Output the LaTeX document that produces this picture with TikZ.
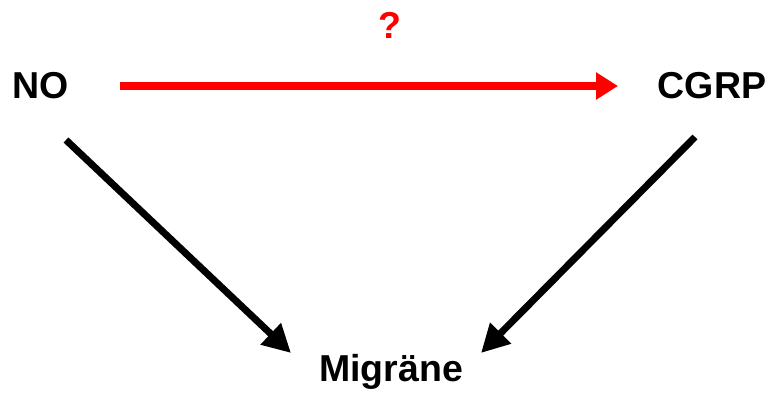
\documentclass[tikz,border=0pt]{standalone}
\usepackage{fontspec}
\setmainfont{Liberation Sans}
\usetikzlibrary{arrows.meta}
\begin{document}
\begin{tikzpicture}[x=1pt,y=-1pt,
  lbl/.style={font=\fontsize{37.5}{40}\selectfont\bfseries, inner sep=0pt},
  redarr/.style={draw=red, line width=8pt, -{Triangle[length=22pt,width=26pt]}},
  blkarr/.style={draw=black, line width=7pt, -{Triangle[length=28pt,width=28pt]}}]
\useasboundingbox (0,0) rectangle (769,396);
\node[lbl] (no) at (41,86) {NO};
\node[lbl] (cgrp) at (712,86) {CGRP};
\node[lbl] (mig) at (391,372) {Migräne};
\node[lbl, text=red] (q) at (390,25) {?};
\coordinate (r1) at (120,86);
\coordinate (r2) at (618,86);
\coordinate (l1) at (66,140);
\coordinate (l2) at (291,353);
\coordinate (k1) at (695,137);
\coordinate (k2) at (481,353);
\draw[redarr] (r1) -- (r2);
\draw[blkarr] (l1) -- (l2);
\draw[blkarr] (k1) -- (k2);
\end{tikzpicture}
\end{document}
